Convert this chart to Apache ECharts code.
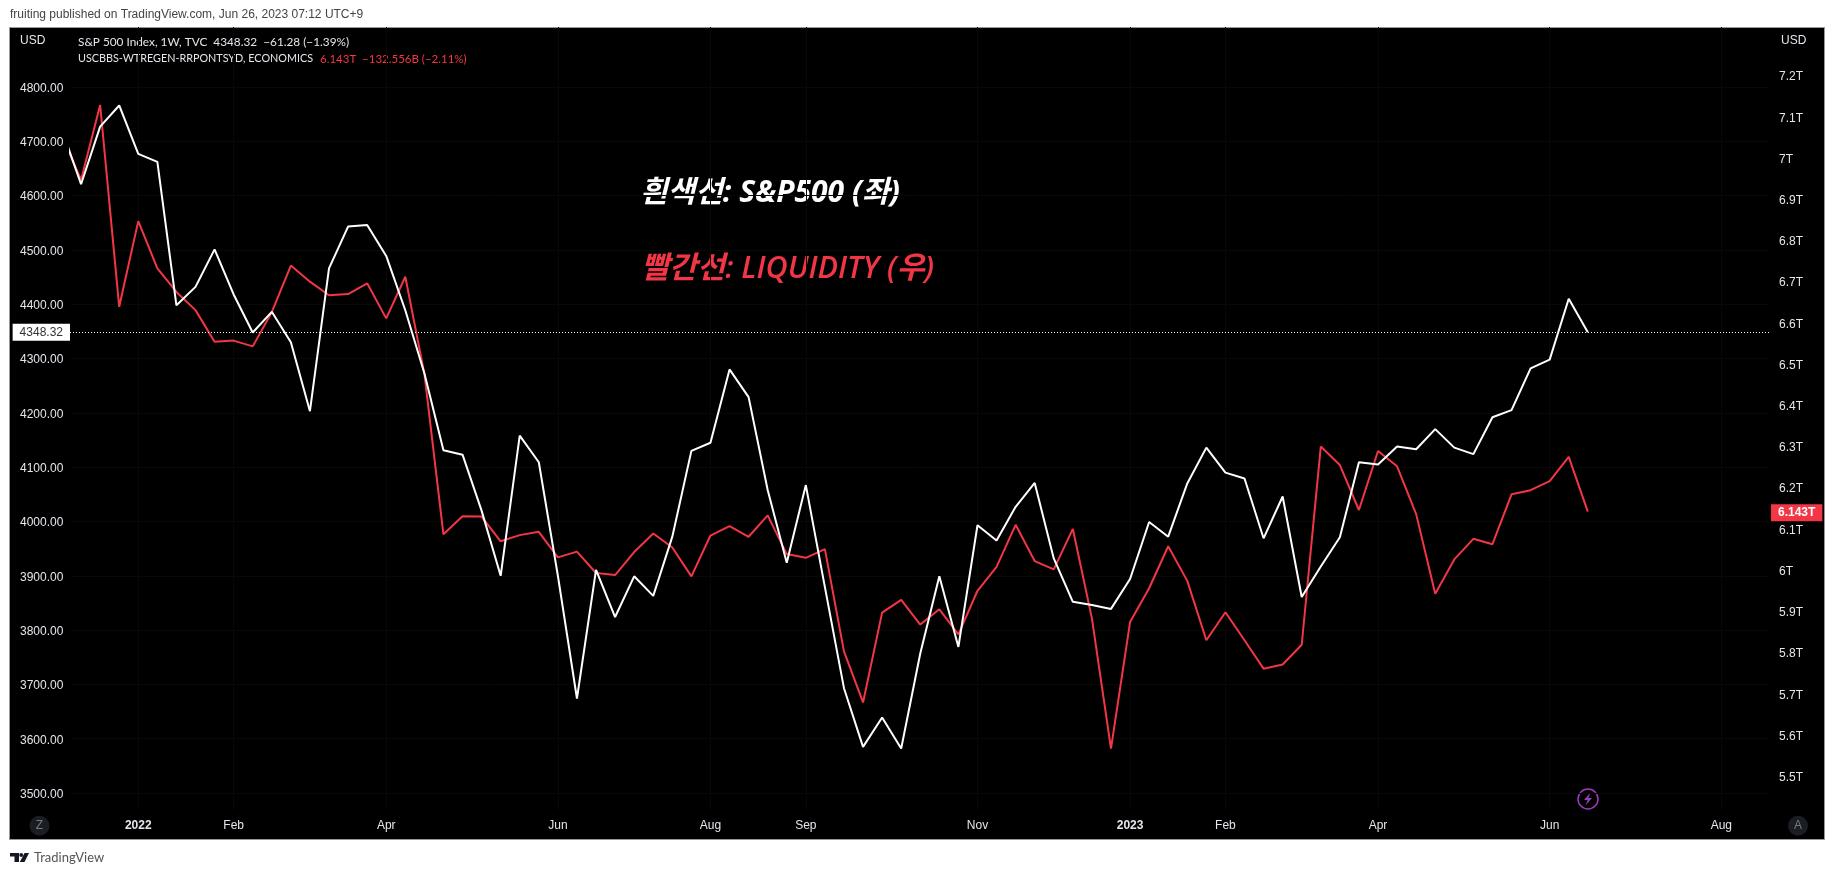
<!DOCTYPE html>
<html>
<head>
    <meta charset="utf-8">
    <title>S&amp;P 500 vs Liquidity</title>
    <script src="https://cdn.jsdelivr.net/npm/echarts@6/dist/echarts.min.js"></script>
    <style>
        html, body { margin: 0; padding: 0; background: #fff; }
        #panel { position: absolute; left: 9px; top: 27px; width: 1814px; height: 811px; background: #000; border: 1px solid #9598a1; }
        #main { position: absolute; left: 0; top: 0; width: 1835px; height: 875px; }
    </style>
</head>
<body>
    <div id="panel"></div>
    <div id="main"></div>

    <script type="text/javascript">
    // weekly closes, the first one is the week of 2021-12-06 and is cut off by the left scale
    var spx = [4721, 4621, 4727, 4766, 4677, 4662, 4398, 4432, 4501, 4418,
        4348, 4386, 4330, 4203, 4466, 4543, 4546, 4489, 4389, 4273,
        4131, 4123, 4020, 3900, 4158, 4109, 3900, 3674, 3911, 3824,
        3899, 3863, 3972, 4130, 4145, 4280, 4229, 4058, 3924, 4067,
        3879, 3693, 3585, 3639, 3582, 3757, 3899, 3769, 3993, 3965,
        4027, 4071, 3932, 3852, 3846, 3839, 3894, 3999, 3972, 4070,
        4136, 4090, 4079, 3969, 4046, 3861, 3917, 3971, 4109, 4105,
        4138, 4133, 4170, 4136, 4124, 4192, 4205, 4282, 4298, 4410, 4348.32];
    var liquidity = [7.055, 6.948, 7.130, 6.640, 6.848, 6.733, 6.676, 6.632, 6.555, 6.558,
        6.544, 6.627, 6.740, 6.701, 6.668, 6.671, 6.697, 6.612, 6.713, 6.478,
        6.088, 6.132, 6.131, 6.071, 6.086, 6.094, 6.032, 6.046, 5.994, 5.989,
        6.045, 6.090, 6.056, 5.986, 6.085, 6.108, 6.082, 6.134, 6.040, 6.031,
        6.052, 5.804, 5.680, 5.898, 5.929, 5.869, 5.906, 5.845, 5.951, 6.009,
        6.111, 6.023, 6.003, 6.101, 5.884, 5.568, 5.875, 5.957, 6.059, 5.975,
        5.831, 5.899, 5.831, 5.762, 5.772, 5.820, 6.301, 6.256, 6.147, 6.290,
        6.253, 6.137, 5.944, 6.027, 6.077, 6.064, 6.185, 6.195, 6.217, 6.276, 6.143];

    var monthWeeks = [3, 8, 16, 25, 33, 38, 47, 55, 60, 68, 77, 86];
    var monthLabels = ['2022', 'Feb', 'Apr', 'Jun', 'Aug', 'Sep', 'Nov', '2023', 'Feb', 'Apr', 'Jun', 'Aug'];
    var leftTicks = [3500, 3600, 3700, 3800, 3900, 4000, 4100, 4200, 4300, 4400, 4500, 4600, 4700, 4800];
    var rightTicks = [5.5, 5.6, 5.7, 5.8, 5.9, 6, 6.1, 6.2, 6.3, 6.4, 6.5, 6.6, 6.7, 6.8, 6.9, 7, 7.1, 7.2];

    var lastSpx = 4348.32;
    var lastLiquidity = 6.143;

    var WHITE = '#ffffff';
    var RED = '#f23645';
    var LABEL = '#e4e6ec';
    var GRIDLINE = '#080808';
    var FONT = '"Liberation Sans", Arial, sans-serif';
    var LEGEND = 'Lato, "Liberation Sans", sans-serif';
    var CJK = '"Open Sans", "Noto Sans CJK KR", sans-serif';

    function toPoints(arr) {
        var out = [];
        for (var i = 0; i < arr.length; i++) {
            out.push([i - 1, arr[i]]);
        }
        return out;
    }

    function headerText(x, y, text, color, font) {
        return {
            type: 'text', x: x, y: y, silent: true,
            style: { text: text, fill: color, font: font || '12px ' + FONT, verticalAlign: 'middle' }
        };
    }

    var myChart = echarts.init(document.getElementById('main'));

    var option = {
        animation: false,
        grid: { left: 70, right: 66, top: 27, bottom: 65 },
        xAxis: {
            type: 'value',
            min: -0.58,
            max: 88.5,
            axisLine: { show: false },
            axisTick: { show: false, customValues: monthWeeks },
            splitLine: { show: true, lineStyle: { color: GRIDLINE, width: 1 } },
            axisLabel: {
                customValues: monthWeeks,
                color: LABEL,
                fontFamily: FONT,
                fontSize: 12,
                margin: 10,
                formatter: function (val) {
                    var s = monthLabels[monthWeeks.indexOf(val)];
                    return s.length == 4 ? '{year|' + s + '}' : s;
                },
                rich: { year: { fontFamily: FONT, fontSize: 12, fontWeight: 'bold', color: LABEL } }
            }
        },
        yAxis: [{
            type: 'value',
            position: 'left',
            min: 3468.7,
            max: 4910.5,
            axisLine: { show: false },
            axisTick: { show: false, customValues: leftTicks },
            splitLine: { show: true, lineStyle: { color: GRIDLINE, width: 1 } },
            axisLabel: {
                customValues: leftTicks,
                align: 'left',
                margin: 50,
                formatter: function (val) { return '{t|' + val.toFixed(2) + '}'; },
                // top padding nudges the text down onto its tick
                rich: { t: { color: LABEL, fontFamily: FONT, fontSize: 12, padding: [3, 0, 0, 0] } }
            }
        }, {
            type: 'value',
            position: 'right',
            min: 5.419,
            max: 7.319,
            axisLine: { show: false },
            axisTick: { show: false, customValues: rightTicks },
            splitLine: { show: false },
            axisLabel: {
                customValues: rightTicks,
                align: 'left',
                margin: 10,
                formatter: function (val) { return '{t|' + val + 'T}'; },
                rich: { t: { color: LABEL, fontFamily: FONT, fontSize: 12, padding: [2, 0, 0, 0] } }
            }
        }],
        series: [{
            name: 'Liquidity',
            type: 'line',
            yAxisIndex: 1,
            data: toPoints(liquidity),
            symbol: 'none',
            lineStyle: { color: RED, width: 2 },
            markLine: {
                silent: true,
                symbol: 'none',
                lineStyle: { color: 'rgba(0,0,0,0)', width: 1 },
                data: [{ yAxis: lastLiquidity }],
                label: {
                    show: true,
                    position: 'end',
                    distance: 2,
                    formatter: lastLiquidity + 'T',
                    color: '#fff',
                    fontFamily: FONT,
                    fontSize: 12,
                    fontWeight: 'bold',
                    backgroundColor: RED,
                    padding: [3, 7, 2, 7]
                }
            }
        }, {
            name: 'S&P 500',
            type: 'line',
            yAxisIndex: 0,
            data: toPoints(spx),
            symbol: 'none',
            lineStyle: { color: WHITE, width: 2 },
            markLine: {
                silent: true,
                symbol: 'none',
                lineStyle: { color: WHITE, type: [1, 2], width: 1 },
                data: [{ yAxis: lastSpx }],
                label: {
                    position: 'start',
                    distance: 0,
                    formatter: lastSpx.toFixed(2),
                    color: '#333',
                    fontFamily: FONT,
                    fontSize: 12,
                    backgroundColor: '#fff',
                    padding: [3, 7, 2, 7]
                }
            }
        }],
        graphic: [
            headerText(10, 15, 'fruiting published on TradingView.com, Jun 26, 2023 07:12 UTC+9', '#444'),
            headerText(20, 41, 'USD', LABEL),
            headerText(1781, 41, 'USD', LABEL),
            headerText(78, 42, 'S&P 500 Index, 1W, TVC  4348.32  \u221261.28 (\u22121.39%)', LABEL, '11.8px ' + LEGEND),
            headerText(78, 59, 'USCBBS-WTREGEN-RRPONTSYD, ECONOMICS', LABEL, '10.8px ' + LEGEND),
            headerText(320, 59, '6.143T  \u2212132.556B (\u22122.11%)', RED, '11.5px ' + LEGEND),
            headerText(640, 193, '\uD770\uC0C9\uC120: S&P500 (\uC88C)', WHITE, 'italic bold 30px ' + CJK),
            headerText(641, 269, '\uBE68\uAC04\uC120: LIQUIDITY (\uC6B0)', RED, 'italic 600 30.5px ' + CJK),
            // Z and A buttons
            { type: 'circle', shape: { cx: 39.5, cy: 825.7, r: 10 }, style: { fill: '#1b1d24' }, silent: true },
            { type: 'text', x: 39.5, y: 826, silent: true, style: { text: 'Z', fill: '#787b86', font: '12px ' + FONT, align: 'center', verticalAlign: 'middle' } },
            { type: 'circle', shape: { cx: 1798, cy: 825.7, r: 10 }, style: { fill: '#1b1d24' }, silent: true },
            { type: 'text', x: 1798, y: 826, silent: true, style: { text: 'A', fill: '#787b86', font: '12px ' + FONT, align: 'center', verticalAlign: 'middle' } },
            // flash icon above the last bar
            { type: 'circle', shape: { cx: 1588, cy: 799, r: 10 }, style: { fill: 'none', stroke: '#9c3cb8', lineWidth: 1.5 }, silent: true },
            { type: 'polygon', shape: { points: [[1590.5, 792.5], [1584, 800], [1587.6, 800], [1585.5, 805.5], [1592, 798], [1588.4, 798]] }, style: { fill: '#9c3cb8' }, silent: true },
            // TradingView logo
            { type: 'polygon', shape: { points: [[10, 853], [19, 853], [19, 862], [14.5, 862], [14.5, 856.5], [10, 856.5]] }, style: { fill: '#131722' }, silent: true },
            { type: 'circle', shape: { cx: 21.2, cy: 855, r: 1.9 }, style: { fill: '#131722' }, silent: true },
            { type: 'polygon', shape: { points: [[24.5, 853], [29, 853], [24.5, 862], [19.8, 862]] }, style: { fill: '#131722' }, silent: true },
            headerText(34, 858, 'TradingView', '#555', '13px Lato, ' + FONT)
        ]
    };

    myChart.setOption(option);
    </script>
</body>
</html>
